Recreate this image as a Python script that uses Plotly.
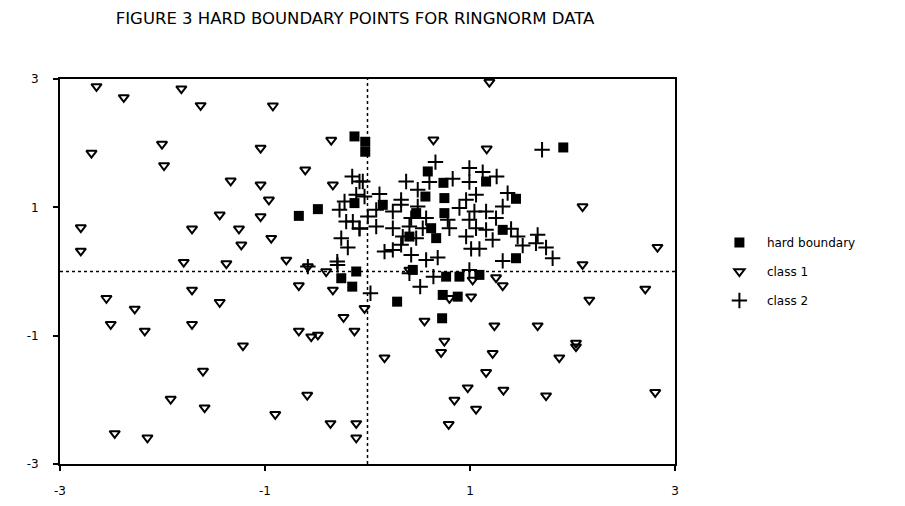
import plotly.graph_objects as go

title_text = "FIGURE 3 HARD BOUNDARY POINTS FOR RINGNORM DATA"
tick_vals = [-3, -1, 1, 3]
tick_text = ["-3", "-1", "1", "3"]

# class 1 (triangle markers)
c1_x = [-2.644, -2.378, -1.816, -1.628, -0.923, -0.354, -2.005, -2.693, -1.043, -1.985,
        -0.607, -1.335, -1.043, -0.338, -0.962, -1.442, -1.043, -2.797, -1.712, -1.254,
        -0.939, -1.231, -2.797, -1.793, -1.377, -0.792, -0.582, -0.403,
        1.189, 0.643, 1.163, 2.098, 2.829, 2.098,
        1.319, 1.026, 1.254, 2.164, 2.710, 0.799, 1.011, 0.556, 1.238, 1.660,
        0.750, 0.718, 2.034, 2.034, 0.166, 1.221, 1.871, 1.157, 0.978, 1.326,
        1.742, 2.807, 0.848, 1.059, 0.792, 0.409,
        -2.547, -2.271, -1.712, -1.442, -2.505, -2.173, -1.712, -1.215, -0.670, -0.338,
        -0.029, -0.234, -0.127, -0.670, -0.549, -0.484, -1.605, -1.920, -1.589, -0.588,
        -0.900, -0.361, -0.110, -0.110, -2.466, -2.147]
c1_y = [2.885, 2.713, 2.849, 2.588, 2.583, 2.048, 1.986, 1.846, 1.924, 1.652,
        1.585, 1.413, 1.351, 1.351, 1.117, 0.883, 0.856, 0.685, 0.665, 0.665,
        0.520, 0.415, 0.321, 0.145, 0.123, 0.181, 0.076, 0.000,
        2.953, 2.053, 1.913, 1.012, 0.379, 0.110,
        -0.220, -0.131, -0.095, -0.443, -0.271, -0.417, -0.392, -0.771, -0.844, -0.844,
        -1.083, -1.259, -1.172, -1.114, -1.343, -1.275, -1.343, -1.571, -1.811, -1.847,
        -1.936, -1.883, -2.003, -2.144, -2.382, 0.025,
        -0.417, -0.583, -0.287, -0.479, -0.822, -0.927, -0.822, -1.156, -0.220, -0.287,
        -0.573, -0.713, -0.927, -0.927, -1.016, -0.989, -1.551, -1.988, -2.123, -1.925,
        -2.226, -2.367, -2.367, -2.591, -2.523, -2.591]

# class 2 (plus markers)
c2_x = [1.703, 0.663, 0.994, 1.124, 1.260, 0.377, 0.604, 0.831, 0.994, 0.490,
        0.117, 1.059, 0.962, 0.328, 1.367, 1.319, 0.085, 0.247, 0.328, 0.490,
        0.897, 1.043, 1.157, 0.003, 1.254, 0.426, 0.572, 0.783, 0.994, 0.085,
        0.247, 0.409, 0.539, 0.799, 1.059, 1.157, 1.401, 0.344, 0.475, 0.962,
        1.221, 1.465, 1.660, 1.514, 1.644, 1.742, 1.806, 0.166, 0.247, 0.328,
        0.426, 0.572, 0.685, 1.011, 1.092, 1.319, -0.078, -0.078,
        -0.149, -0.046, -0.110, -0.029, -0.224, -0.273, -0.208, -0.143, -0.078, -0.256,
        -0.192, -0.295, -0.582,
        0.029, 0.514, 0.643, 0.409, 0.994, -0.292]
c2_y = [1.897, 1.705, 1.612, 1.549, 1.480, 1.402, 1.393, 1.445, 1.393, 1.273,
        1.206, 1.195, 1.117, 1.117, 1.222, 1.012, 0.961, 0.934, 1.039, 1.012,
        0.988, 0.934, 0.934, 0.856, 0.832, 0.832, 0.832, 0.805, 0.805, 0.700,
        0.675, 0.700, 0.675, 0.675, 0.675, 0.649, 0.665, 0.544, 0.520, 0.544,
        0.493, 0.544, 0.571, 0.404, 0.441, 0.373, 0.207, 0.310, 0.337, 0.415,
        0.259, 0.181, 0.217, 0.353, 0.353, 0.165, 1.402, 0.675,
        1.481, 1.402, 1.195, 1.168, 1.090, 0.961, 0.778, 0.778, 0.665, 0.520,
        0.373, 0.154, 0.076,
        -0.339, -0.236, -0.080, -0.027, 0.025, 0.103]

# hard boundary points (squares)
hb_x = [-0.127, -0.022, -0.022, -0.670, -0.484, -0.127, 0.149, 0.588, 0.741, 0.565,
        0.750, 1.157, 1.449, 1.910, 0.475, 0.750, 0.621, 0.670, 0.409, 1.319,
        1.449, -0.256, -0.149, -0.110, 0.289, 0.728, 0.734, 0.880, 0.767, 0.897,
        1.092, 0.442]
hb_y = [2.105, 2.022, 1.866, 0.867, 0.972, 1.066, 1.039, 1.559, 1.382, 1.168,
        1.144, 1.402, 1.133, 1.933, 0.910, 0.910, 0.675, 0.520, 0.544, 0.649,
        0.207, -0.105, -0.236, 0.000, -0.470, -0.729, -0.365, -0.392, -0.080, -0.080,
        -0.053, 0.025]

FONT = "DejaVu Sans"

fig = go.Figure()
fig.add_trace(go.Scatter(
    x=c1_x, y=c1_y, mode="markers", name="class 1", legendrank=2, legendgroup="c1",
    marker=dict(symbol="triangle-down-open", size=9, color="black",
                line=dict(color="black", width=2))))
fig.add_trace(go.Scatter(
    x=c2_x, y=c2_y, mode="markers", name="class 2", legendrank=3, legendgroup="c2",
    marker=dict(symbol="cross-thin-open", size=11, color="black",
                line=dict(color="black", width=2))))
fig.add_trace(go.Scatter(
    x=hb_x, y=hb_y, mode="markers", name="hard boundary", legendrank=1, legendgroup="hb",
    marker=dict(symbol="square", size=10, color="black",
                line=dict(width=0))))

# dotted reference lines at zero
fig.add_shape(type="line", x0=-3, x1=3, y0=0, y1=0, xref="x", yref="y",
              line=dict(color="black", width=1.5, dash="dot"), layer="below")
fig.add_shape(type="line", x0=0, x1=0, y0=-3, y1=3, xref="x", yref="y",
              line=dict(color="black", width=1.5, dash="dot"), layer="below")

axis_common = dict(
    range=[-3, 3], tickvals=tick_vals, ticktext=tick_text,
    ticks="outside", ticklen=5, tickwidth=2, tickcolor="black",
    showline=True, linecolor="black", linewidth=2, mirror=True,
    showgrid=False, zeroline=False, automargin=False,
    tickfont=dict(family=FONT, size=12, color="black"),
)

# the page body adds an 8px offset, margins compensate for it
fig.update_layout(
    width=905, height=506,
    paper_bgcolor="white", plot_bgcolor="white",
    margin=dict(l=52, r=238, t=71, b=50, autoexpand=False),
    title=dict(text=title_text, x=347 / 905, xanchor="center", xref="container",
               y=1 - 10 / 506, yanchor="middle", yref="container",
               font=dict(family=FONT, size=16.5, color="black")),
    xaxis=dict(**axis_common, ticklabelstandoff=10),
    yaxis=dict(**axis_common, ticklabelstandoff=12),
    showlegend=True,
    legend=dict(x=1.06, xanchor="left", y=0.5, yanchor="middle",
                font=dict(family=FONT, size=12, color="black"),
                itemwidth=45,
                tracegroupgap=10, bgcolor="rgba(0,0,0,0)"),
)

fig.write_html("out.html")
